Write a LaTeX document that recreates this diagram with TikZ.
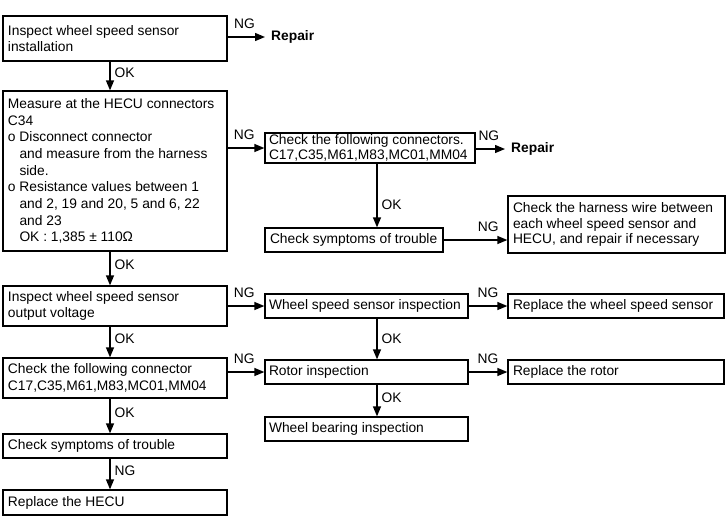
\documentclass[tikz,border=0pt]{standalone}
\usepackage{fontspec}
\setmainfont{Liberation Sans}
\usetikzlibrary{arrows.meta}

\tikzset{
  box/.style={draw, line width=1.3pt, align=flush left, inner xsep=5pt, inner ysep=0pt,
    font=\fontsize{13.8pt}{16.7pt}\selectfont},
  lbox/.style={box, text width=214pt},
  mbox/.style={box, inner xsep=4pt, text width=195pt},
  rbox/.style={box, text width=206pt},
  tag/.style={font=\fontsize{13.8pt}{16pt}\selectfont, inner sep=2pt},
  flow/.style={->, line width=1.3pt},
}

\begin{document}
\begin{tikzpicture}[x=1pt, y=-1pt, >={Triangle[length=10pt,width=8pt]}]
    \useasboundingbox (0,0) rectangle (726,531);
    \coordinate (lx) at (110,0);
    \coordinate (mx) at (377,0);

    % left column
    \node[lbox, minimum height=45pt] (inst) at (115,38.5) {Inspect wheel speed sensor\\installation};
    \node[lbox, minimum height=160pt] (measure) at (115,171) {Measure at the HECU connectors\\C34\\o Disconnect connector\\\phantom{o }and measure from the harness\\\phantom{o }side.\\o Resistance values between 1\\\phantom{o }and 2, 19 and 20, 5 and 6, 22\\\phantom{o }and 23\\\phantom{o }OK : 1,385 ± 110Ω};
    \node[lbox, minimum height=40pt] (outv) at (115,306) {Inspect wheel speed sensor\\output voltage};
    \node[lbox, minimum height=40pt] (conn) at (115,378) {Check the following connector\\C17,C35,M61,M83,MC01,MM04};
    \node[lbox, minimum height=24pt] (symp) at (115,446) {Check symptoms of trouble};
    \node[lbox, minimum height=25pt] (hecu) at (115,502.5) {Replace the HECU};

    % middle column
    \node[box, text width=202pt, inner xsep=4pt, minimum height=30pt, font=\fontsize{13.8pt}{15pt}\selectfont] (chkconn) at (370,148) {Check the following connectors.\\C17,C35,M61,M83,MC01,MM04};
    \node[box, text width=172pt, inner xsep=3pt, minimum height=24pt] (chksymp) at (354,240) {\hspace{2pt}Check symptoms of trouble};
    \node[mbox, minimum height=24pt] (wssi) at (366.5,306) {Wheel speed sensor inspection};
    \node[mbox, minimum height=24pt] (rotor) at (366.5,372) {Rotor inspection};
    \node[mbox, minimum height=24pt] (bearing) at (366.5,429) {Wheel bearing inspection};

    % right column
    \node[box, text width=207pt, minimum height=57pt, font=\fontsize{13.8pt}{15.4pt}\selectfont] (harness) at (616.5,224.5) {Check the harness wire between\\each wheel speed sensor and\\HECU, and repair if necessary};
    \node[rbox, minimum height=24pt] (rwss) at (616,306) {Replace the wheel speed sensor};
    \node[rbox, minimum height=24pt] (rrotor) at (616,372) {Replace the rotor};

    \node[tag, inner xsep=6pt, font=\fontsize{13.8pt}{16pt}\selectfont\bfseries, anchor=west] (repairA) at (265,37) {Repair};
    \node[tag, inner xsep=6pt, font=\fontsize{13.8pt}{16pt}\selectfont\bfseries, anchor=west] (repairB) at (505,149) {Repair};

    % OK arrows
    \draw[flow] (inst.south -| lx) -- (measure.north -| lx) node[tag, pos=0.4, right, xshift=2pt] {OK};
    \draw[flow] (measure.south -| lx) -- (outv.north -| lx) node[tag, pos=0.4, right, xshift=2pt] {OK};
    \draw[flow] (outv.south -| lx) -- (conn.north -| lx) node[tag, pos=0.4, right, xshift=2pt] {OK};
    \draw[flow] (conn.south -| lx) -- (symp.north -| lx) node[tag, pos=0.4, right, xshift=2pt] {OK};
    \draw[flow] (symp.south -| lx) -- (hecu.north -| lx) node[tag, pos=0.4, right, xshift=2pt] {NG};
    \draw[flow] (chkconn.south -| mx) -- (chksymp.north -| mx) node[tag, pos=0.65, right, xshift=2pt] {OK};
    \draw[flow] (wssi.south -| mx) -- (rotor.north -| mx) node[tag, pos=0.5, right, xshift=2pt] {OK};
    \draw[flow] (rotor.south -| mx) -- (bearing.north -| mx) node[tag, pos=0.4, right, xshift=2pt] {OK};

    % NG arrows
    \draw[flow] (inst.east |- repairA.west) -- (repairA.west) node[tag, pos=0.45, above, yshift=6pt] {NG};
    \draw[flow] (measure.east |- chkconn.west) -- (chkconn.west) node[tag, pos=0.45, above, yshift=6pt] {NG};
    \draw[flow] (chkconn.east |- repairB.west) -- (repairB.west) node[tag, pos=0.45, above, yshift=6pt] {NG};
    \draw[flow] (chksymp.east) -- (chksymp.east -| harness.west) node[tag, pos=0.7, above, yshift=6pt] {NG};
    \draw[flow] (outv.east |- wssi.west) -- (wssi.west) node[tag, pos=0.45, above, yshift=6pt] {NG};
    \draw[flow] (wssi.east) -- (rwss.west) node[tag, pos=0.5, above, yshift=6pt] {NG};
    \draw[flow] (conn.east |- rotor.west) -- (rotor.west) node[tag, pos=0.45, above, yshift=6pt] {NG};
    \draw[flow] (rotor.east) -- (rrotor.west) node[tag, pos=0.5, above, yshift=6pt] {NG};
\end{tikzpicture}
\end{document}
